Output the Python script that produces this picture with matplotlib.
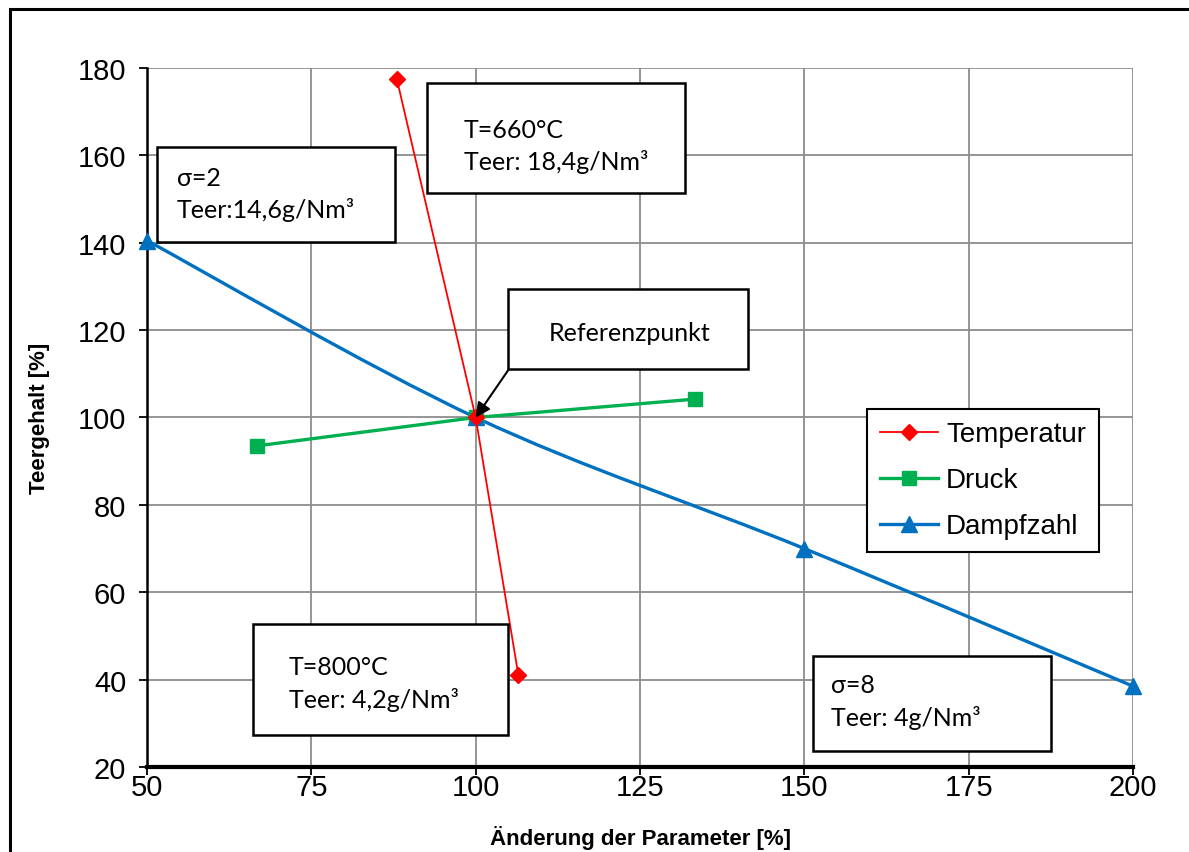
import matplotlib
matplotlib.use("Agg")
import matplotlib.pyplot as plt
from matplotlib.path import Path
from matplotlib.patches import PathPatch, Rectangle
from matplotlib.lines import Line2D
import numpy as np

# ---- data ----
temp_x = [88, 100, 106.5]
temp_y = [177.5, 100, 41]
druck_x = [66.7, 100, 133.3]
druck_y = [93.5, 100, 104.2]
dampf_x = [50, 100, 150, 200]
dampf_y = [140.5, 100, 70, 38.5]

x_ticks = [50, 75, 100, 125, 150, 175, 200]
y_ticks = [20, 40, 60, 80, 100, 120, 140, 160, 180]

RED = '#FF0000'
GREEN = '#00B050'
BLUE = '#0070C0'

W, H = 1189, 853
fig = plt.figure(figsize=(W / 100, H / 100), dpi=100)


def fx(px):
    return px / W


def fy(py):
    return 1 - py / H


ax = fig.add_axes([fx(147), fy(768), fx(1133) - fx(147), fy(69) - fy(768)])
ax.set_xlim(50, 200)
ax.set_ylim(20, 180)
ax.set_xticks(x_ticks)
ax.set_yticks(y_ticks)
ax.grid(True, color='#8c8c8c', lw=1.3)
ax.set_axisbelow(True)
for s in ['top', 'right']:
    ax.spines[s].set_visible(False)
ax.spines['left'].set_linewidth(1.8)
ax.spines['bottom'].set_linewidth(3)
ax.tick_params(axis='both', direction='out', length=6, width=1.3, colors='black',
               labelsize=21)
ax.tick_params(axis='y', pad=9)
ax.tick_params(axis='x', pad=-2)
for lab in ax.get_xticklabels() + ax.get_yticklabels():
    lab.set_family(['Liberation Sans', 'DejaVu Sans'])


def smooth_path(xs, ys):
    # Excel-style smoothed line: Catmull-Rom as cubic Bezier segments
    pts = np.column_stack([xs, ys]).astype(float)
    verts = [pts[0]]
    codes = [Path.MOVETO]
    n = len(pts)
    for i in range(n - 1):
        p0 = pts[i - 1] if i > 0 else pts[i]
        p1 = pts[i]
        p2 = pts[i + 1]
        p3 = pts[i + 2] if i + 2 < n else pts[i + 1]
        c1 = p1 + (p2 - p0) / 6
        c2 = p2 - (p3 - p1) / 6
        verts += [c1, c2, p2]
        codes += [Path.CURVE4] * 3
    return Path(verts, codes)


ax.add_patch(PathPatch(smooth_path(dampf_x, dampf_y), fill=False, ec=BLUE, lw=2.4, zorder=3))
ax.plot(dampf_x, dampf_y, ls='none', marker='^', ms=12, color=BLUE, zorder=4, clip_on=False)
ax.plot(druck_x, druck_y, color=GREEN, lw=2.4, marker='s', ms=10, zorder=3)
ax.plot(temp_x, temp_y, color=RED, lw=1.3, marker='D', ms=8, zorder=5)

handles = [
    Line2D([], [], color=RED, lw=1.3, marker='D', ms=8),
    Line2D([], [], color=GREEN, lw=2.4, marker='s', ms=10),
    Line2D([], [], color=BLUE, lw=2.4, marker='^', ms=12),
]
leg = fig.legend(handles, ['Temperatur', 'Druck', 'Dampfzahl'],
                 loc='upper left', bbox_to_anchor=(fx(867), fy(410)),
                 prop={'family': 'Liberation Sans', 'size': 20},
                 fancybox=False, framealpha=1, edgecolor='black',
                 handlelength=2.1, handletextpad=0.3, labelspacing=0.72,
                 borderpad=0.45, borderaxespad=0)
leg.get_frame().set_linewidth(1.5)

# ---- text boxes ----
box_font = ['Lato', 'DejaVu Sans']


def text_box(x0, y0, x1, y1, lines, tx, ty, dy=32, center=False):
    fig.add_artist(Rectangle((fx(x0), fy(y1)), fx(x1) - fx(x0), fy(y0) - fy(y1),
                             transform=fig.transFigure, fc='white', ec='black', lw=1.8,
                             zorder=10))
    for i, t in enumerate(lines):
        fig.text(fx(tx), fy(ty + i * dy), t, family=box_font, size=18,
                 ha='center' if center else 'left', va='center', zorder=11)


text_box(157, 148, 395, 243, ['σ=2', 'Teer:14,6g/Nm³'], 177, 178)
text_box(427, 84, 685, 194, ['T=660°C', 'Teer: 18,4g/Nm³'], 464, 130)
text_box(508, 290, 748, 370, ['Referenzpunkt'], 630, 334, center=True)
text_box(253, 625, 508, 736, ['T=800°C', 'Teer: 4,2g/Nm³'], 289, 668)
text_box(813, 657, 1051, 752, ['σ=8', 'Teer: 4g/Nm³'], 831, 686)

ax.annotate('', xy=(100, 100), xycoords='data',
            xytext=(fx(509), fy(370)), textcoords='figure fraction',
            arrowprops=dict(arrowstyle='-|>', color='black', lw=1.5,
                            mutation_scale=22, shrinkA=0, shrinkB=0), zorder=12)

# axis labels
lab_font = ['Liberation Sans Narrow', 'Liberation Sans', 'DejaVu Sans']
fig.text(fx(40), fy(418), 'Teergehalt [%]', rotation=90, ha='center', va='center',
         family=lab_font, weight='bold', size=16)
fig.text(fx(641), fy(838), 'Änderung der Parameter [%]', ha='center', va='center',
         family=lab_font, weight='bold', size=16)

# outer chart frame (extends past right/bottom edge)
fig.add_artist(Rectangle((fx(10), -0.1), 1.2, fy(10) + 0.1, transform=fig.transFigure,
                         fill=False, ec='black', lw=2.2))

fig.savefig('out.png', dpi=100)
